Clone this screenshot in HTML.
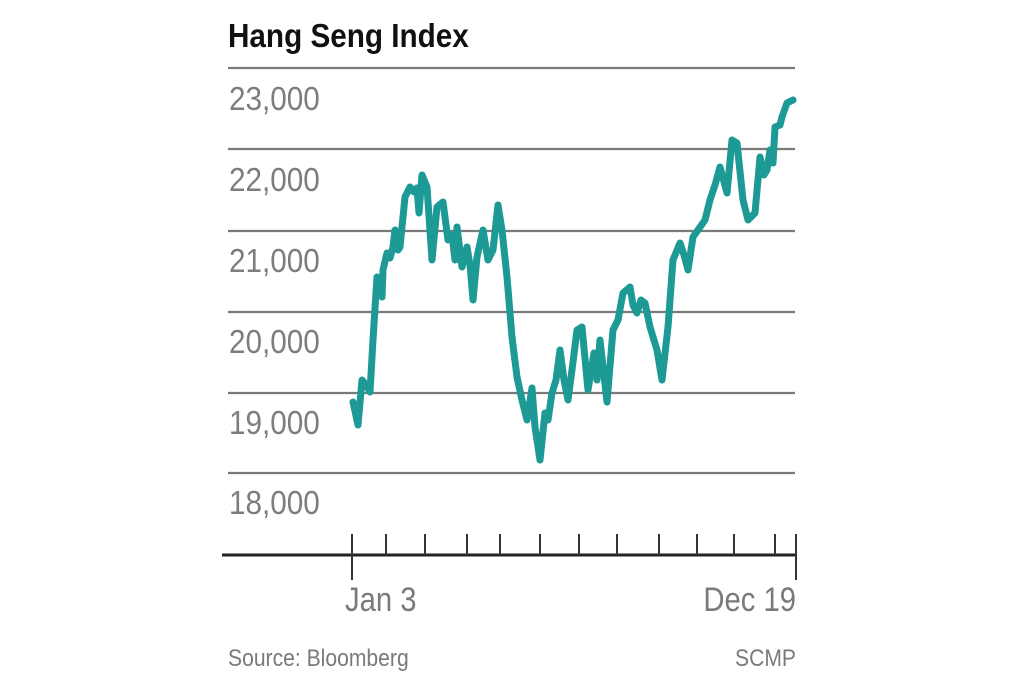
<!DOCTYPE html>
<html><head><meta charset="utf-8"><style>
html,body{margin:0;padding:0;background:#fff;width:1020px;height:680px;overflow:hidden}
svg{display:block}
text{font-family:"Liberation Sans",sans-serif}
</style></head><body>
<svg width="1020" height="680" viewBox="0 0 1020 680">
<text x="228" y="47" font-size="33" font-weight="bold" fill="#111" transform="translate(228,0) scale(0.9,1) translate(-228,0)">Hang Seng Index</text>
<g stroke="#7a7a7a" stroke-width="2.2">
<line x1="228" y1="68" x2="795" y2="68"/>
<line x1="228" y1="149" x2="795" y2="149"/>
<line x1="228" y1="231" x2="795" y2="231"/>
<line x1="228" y1="312" x2="795" y2="312"/>
<line x1="228" y1="393" x2="795" y2="393"/>
<line x1="228" y1="473" x2="795" y2="473"/>
</g>
<g font-size="33" fill="#7d7d7d" transform="translate(229,0) scale(0.9,1) translate(-229,0)">
<text x="229" y="110">23,000</text>
<text x="229" y="191">22,000</text>
<text x="229" y="272">21,000</text>
<text x="229" y="353">20,000</text>
<text x="229" y="434">19,000</text>
<text x="229" y="514">18,000</text>
</g>
<line x1="222" y1="555" x2="796" y2="555" stroke="#222" stroke-width="3"/>
<g stroke="#333" stroke-width="2">
<line x1="352" y1="534" x2="352" y2="580"/>
<line x1="796" y1="534" x2="796" y2="580"/>
<line x1="386" y1="534" x2="386" y2="555"/>
<line x1="425" y1="534" x2="425" y2="555"/>
<line x1="467" y1="534" x2="467" y2="555"/>
<line x1="500" y1="534" x2="500" y2="555"/>
<line x1="540" y1="534" x2="540" y2="555"/>
<line x1="579" y1="534" x2="579" y2="555"/>
<line x1="617" y1="534" x2="617" y2="555"/>
<line x1="659" y1="534" x2="659" y2="555"/>
<line x1="697" y1="534" x2="697" y2="555"/>
<line x1="734" y1="534" x2="734" y2="555"/>
<line x1="775" y1="534" x2="775" y2="555"/>
</g>
<polyline fill="none" stroke="#1e9a96" stroke-width="7" stroke-linejoin="round" stroke-linecap="round" points="353,402 358,425 362,380 366,385 370,392 373,340 377,277 382,297 383,270 387,253 390,258 393,247 395,230 398,250 400,247 405,197 410,187 414,192 417,188 419,213 422,175 427,187 432,260 437,207 443,202 448,240 452,235 455,260 457,227 462,267 467,247 470,265 473,300 477,257 483,230 488,260 493,250 498,205 502,230 507,277 512,337 517,377 522,400 527,420 532,388 535,427 540,460 545,413 548,420 552,393 556,380 560,350 564,380 568,400 572,370 577,330 582,327 588,390 594,353 597,380 600,340 607,402 613,330 618,320 623,293 630,287 633,305 637,313 641,300 645,303 650,327 657,350 662,380 668,327 673,260 680,243 684,255 688,270 693,237 698,230 705,220 710,200 715,185 720,167 727,193 732,140 737,143 743,200 748,220 755,213 760,157 764,175 767,170 770,150 773,163 775,127 780,125 782,117 787,103 793,100"/>
<g font-size="34" fill="#7a7a7a">
<text x="345" y="611" transform="translate(345,0) scale(0.86,1) translate(-345,0)">Jan 3</text>
<text x="796" y="611" text-anchor="end" transform="translate(796,0) scale(0.86,1) translate(-796,0)">Dec 19</text>
</g>
<g font-size="24" fill="#7a7a7a">
<text x="228" y="666" transform="translate(228,0) scale(0.88,1) translate(-228,0)">Source: Bloomberg</text>
<text x="796" y="666" text-anchor="end" transform="translate(796,0) scale(0.88,1) translate(-796,0)">SCMP</text>
</g>
</svg>
</body></html>
